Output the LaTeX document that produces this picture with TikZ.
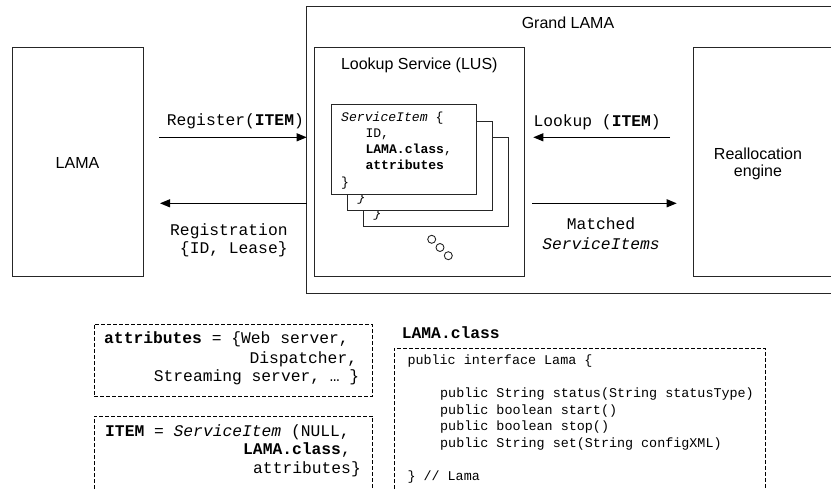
\documentclass[tikz,border=0pt]{standalone}
\usepackage{fontspec}
\setmainfont{Liberation Sans}
\setmonofont{Liberation Mono}
\usetikzlibrary{arrows.meta}
\begin{document}
\begin{tikzpicture}[x=1pt,y=-1pt,
  box/.style={draw=black!85, line width=0.9pt, inner sep=0pt, outer sep=0pt, anchor=north west},
  card/.style={box, fill=white, minimum width=145.3pt, minimum height=89.6pt},
  arr/.style={line width=1.1pt, -{Triangle[length=10pt,width=8pt]}},
  dbox/.style={line width=1pt, dash pattern=on 4pt off 2pt},
  sans/.style={font=\fontsize{16}{19}\selectfont, inner sep=0pt},
  mono/.style={font=\ttfamily\fontsize{16.3}{19}\selectfont, inner sep=0pt},
  cmono/.style={font=\ttfamily\fontsize{13.1}{16}\selectfont, inner sep=0pt, anchor=base west},
  code/.style={font=\ttfamily\fontsize{13.4}{16}\selectfont, inner sep=0pt, anchor=base west},
  dot/.style={draw=black!85, line width=0.9pt, fill=white}
]
\useasboundingbox (0,0) rectangle (831,489);
\clip (0,0) rectangle (831,489);

% main boxes
\node[box, minimum width=540pt, minimum height=286.6pt] (grand) at (306.7,6.7) {};
\node[sans, anchor=base] (grandtxt) at (568,28.3) {Grand LAMA};

\node[box, minimum width=131pt, minimum height=229.4pt] (lama) at (12.3,47.3) {};
\node[sans, anchor=base] (lamatxt) at (77.5,168.3) {LAMA};

\node[box, minimum width=209.6pt, minimum height=229.4pt] (lus) at (314.7,47.3) {};
\node[sans, anchor=base] (lustxt) at (419.3,69.3) {Lookup Service (LUS)};

\node[box, minimum width=160pt, minimum height=229.4pt] (realloc) at (693.7,47.3) {};
\node[sans, anchor=base] (realloc1) at (758,160) {Reallocation};
\node[sans, anchor=base] (realloc2) at (758,177) {engine};

% service item cards (back to front)
\node[card] (card3) at (363,137.3) {};
\node[cmono] (br3) at (373.3,218) {\textit{\}}};
\node[card] (card2) at (347,121) {};
\node[cmono] (br2) at (357.3,202) {\textit{\}}};
\node[card] (card1) at (331,104.7) {};
\node[cmono] (si1) at (341,121.5) {\textit{ServiceItem} \{};
\node[cmono] (si2) at (365.3,138) {ID,};
\node[cmono] (si3) at (365.3,154) {\textbf{LAMA.class},};
\node[cmono] (si4) at (365.3,170) {\textbf{attributes}};
\node[cmono] (si5) at (341,186.5) {\}};

% dots
\node[dot, circle, minimum size=8pt, inner sep=0pt] (d1) at (431.7,239.3) {};
\node[dot, circle, minimum size=8pt, inner sep=0pt] (d2) at (440,247.5) {};
\node[dot, circle, minimum size=8pt, inner sep=0pt] (d3) at (448.3,255.7) {};

% arrows
\coordinate (regfrom) at (159.3,137.3);
\coordinate (regback) at (160,203.3);
\coordinate (lookfrom) at (670,137.3);
\coordinate (lookto) at (533.3,137.3);
\coordinate (matchfrom) at (532.3,203.3);
\coordinate (matchto) at (676.7,203.3);
\draw[arr] (regfrom) -- (regfrom -| grand.west);
\draw[arr] (regback -| grand.west) -- (regback);
\draw[arr] (lookfrom) -- (lookto);
\draw[arr] (matchfrom) -- (matchto);

\node[mono, anchor=base west] (reglbl) at (166.7,126) {Register(\textbf{ITEM})};
\node[mono, anchor=base west] (regb1) at (170,236) {Registration};
\node[mono, anchor=base west] (regb2) at (170,253.3) {\ \{ID, Lease\}};
\node[mono, anchor=base west] (looklbl) at (533.3,126.7) {Lookup (\textbf{ITEM})};
\node[mono, anchor=base] (match1) at (601,230) {Matched};
\node[mono, anchor=base] (match2) at (601,250) {\textit{ServiceItems}};

% attributes box
\draw[dbox] (94,325) rectangle (372.7,396.7);
\node[mono, anchor=base west] (at1) at (104,344) {\textbf{attributes} = \{Web server,};
\node[mono, anchor=base east] (at2) at (357.3,363.3) {Dispatcher,};
\node[mono, anchor=base east] (at3) at (359.5,381.5) {Streaming server, … \}};

% ITEM box
\draw[dbox] (94,495) -- (94,416) -- (372.7,416) -- (372.7,495);
\node[mono, anchor=base west] (it1) at (105,436) {\textbf{ITEM} = \textit{ServiceItem} (NULL,};
\node[mono, anchor=base east] (it2) at (351,454) {\textbf{LAMA.class},};
\node[mono, anchor=base east] (it3) at (361,473) {attributes\}};

% LAMA.class box
\node[mono, anchor=base west] (lclbl) at (401.7,338.3) {\textbf{LAMA.class}};
\draw[dbox] (394,495) -- (394,348.3) -- (765.7,348.3) -- (765.7,495);
\node[code] (c1) at (407.3,365) {public interface Lama \{};
\node[code] (c2) at (440,397.3) {public String status(String statusType)};
\node[code] (c3) at (440,414) {public boolean start()};
\node[code] (c4) at (440,430.5) {public boolean stop()};
\node[code] (c5) at (440,447.3) {public String set(String configXML)};
\node[code] (c6) at (407.3,480) {\} // Lama};
\end{tikzpicture}
\end{document}
